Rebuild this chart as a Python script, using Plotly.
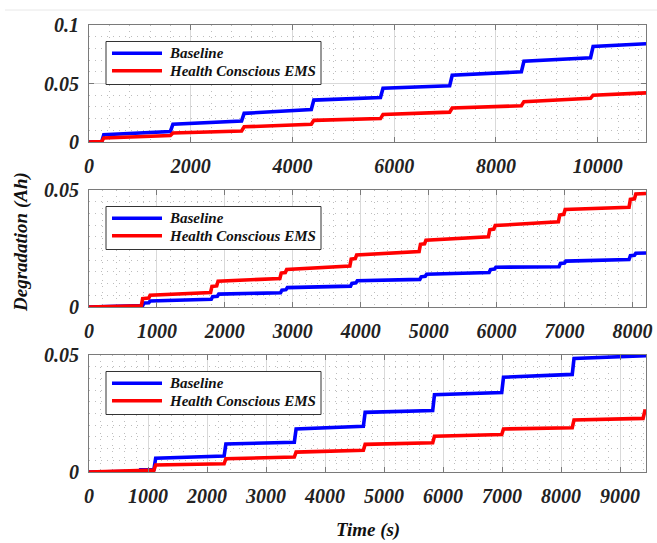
import plotly.graph_objects as go
from plotly.subplots import make_subplots

# ---------------- data ----------------
series_names = ["Baseline", "Health Conscious EMS"]
tick_x1 = [0, 2000, 4000, 6000, 8000, 10000]
tick_x2 = [0, 1000, 2000, 3000, 4000, 5000, 6000, 7000, 8000]
tick_x3 = [0, 1000, 2000, 3000, 4000, 5000, 6000, 7000, 8000, 9000]
tick_y1 = [0, 0.05, 0.1]
tick_y1_labels = ["0", "0.05", "0.1"]
tick_y23 = [0, 0.05]
tick_y23_labels = ["0", "0.05"]

# panel 1
t1_base = [0, 250, 290, 1600, 1650, 3000, 3050, 4370, 4420, 5730, 5780, 7090, 7140,
           8500, 8550, 9860, 9910, 10950]
base1 = [0, 0.0003, 0.0062, 0.0090, 0.0152, 0.0180, 0.0245, 0.0277, 0.0358, 0.0380,
         0.0460, 0.0480, 0.0570, 0.0600, 0.0690, 0.0720, 0.0816, 0.0840]
t1_hems = [0, 250, 290, 1600, 1650, 3000, 3050, 4370, 4420, 5730, 5780, 7090, 7140,
           8500, 8550, 9860, 9910, 10950]
hems1 = [0, 0.0003, 0.0035, 0.0055, 0.0077, 0.0094, 0.0130, 0.0151, 0.0185, 0.0200,
         0.0235, 0.0255, 0.0290, 0.0310, 0.0345, 0.0373, 0.0400, 0.0420]

# panel 2
t2_base = [0, 790, 810, 880, 900, 1800, 1820, 1890, 1910, 2820, 2840, 2900, 2920,
           3850, 3870, 3930, 3950, 4870, 4890, 4950, 4970, 5890, 5910, 5970, 5990,
           6920, 6940, 7000, 7020, 7950, 7970, 8030, 8050, 8200]
base2 = [0, 0.0006, 0.0017, 0.0018, 0.0026, 0.0033, 0.0044, 0.0046, 0.0055, 0.0061,
         0.0072, 0.0074, 0.0083, 0.0089, 0.0101, 0.0103, 0.0112, 0.0118, 0.0129,
         0.0131, 0.0140, 0.0147, 0.0160, 0.0162, 0.0170, 0.0172, 0.0186, 0.0188,
         0.0196, 0.0203, 0.0219, 0.0221, 0.0230, 0.0231]
t2_hems = [0, 770, 790, 880, 900, 1790, 1810, 1880, 1900, 2810, 2830, 2890, 2910,
           3840, 3860, 3920, 3940, 4860, 4880, 4940, 4960, 5880, 5900, 5960, 5980,
           6910, 6930, 6990, 7010, 7950, 7970, 8030, 8050, 8200]
hems2 = [0, 0.0005, 0.0036, 0.0038, 0.0050, 0.0062, 0.0088, 0.0090, 0.0110, 0.0122,
         0.0145, 0.0147, 0.0160, 0.0175, 0.0205, 0.0207, 0.0222, 0.0237, 0.0268,
         0.0270, 0.0285, 0.0300, 0.0330, 0.0333, 0.0348, 0.0364, 0.0393, 0.0396,
         0.0417, 0.0426, 0.0460, 0.0462, 0.0483, 0.0485]

# panel 3
t3_base = [0, 850, 870, 1100, 1130, 2290, 2320, 3480, 3510, 4650, 4680, 5825, 5855,
           6995, 7025, 8190, 8220, 9440]
base3 = [0, 0.0003, 0.0010, 0.0011, 0.0059, 0.0068, 0.0120, 0.0127, 0.0184, 0.0195,
         0.0255, 0.0263, 0.0330, 0.0340, 0.0405, 0.0417, 0.0485, 0.0497]
t3_hems = [0, 1100, 1130, 2290, 2320, 3480, 3510, 4650, 4680, 5825, 5855, 6995, 7025,
           8190, 8220, 9390, 9420, 9440]
hems3 = [0, 0.0008, 0.0030, 0.0035, 0.0057, 0.0064, 0.0085, 0.0093, 0.0118, 0.0125,
         0.0153, 0.0160, 0.0184, 0.0189, 0.0222, 0.0229, 0.0260, 0.0260]

x_ranges = [10950, 8200, 9440]
y_ranges = [0.1, 0.05, 0.05]

# ---------------- figure ----------------
W, H = 657, 543
ML, MR, MT, MB = 89, 11, 25, 71
PW, PH = W - ML - MR, H - MT - MB
panel_px = [(25, 142), (190, 307), (355, 472)]  # top, bottom in pixels


def px_x(px):
    return (px - ML) / PW


def px_y(py):
    return (H - MB - py) / PH


colors = ["#0000FF", "#FF0000"]
FONT = "Liberation Serif, Times New Roman, serif"
AXCOL = "#7a7a7a"

fig = make_subplots(rows=3, cols=1)

data = [
    [(t1_base, base1), (t1_hems, hems1)],
    [(t2_base, base2), (t2_hems, hems2)],
    [(t3_base, base3), (t3_hems, hems3)],
]
for r, pair in enumerate(data, start=1):
    for k, (tt, vv) in enumerate(pair):
        fig.add_trace(go.Scatter(x=tt, y=vv, mode="lines", name=series_names[k],
                                 line=dict(color=colors[k], width=3.6),
                                 showlegend=False, hoverinfo="skip"),
                      row=r, col=1)

tickfont = dict(family=FONT, size=20, weight="bold", style="italic", color="#222222")
xticks = [tick_x1, tick_x2, tick_x3]
yticks = [(tick_y1, tick_y1_labels), (tick_y23, tick_y23_labels), (tick_y23, tick_y23_labels)]
xminor = [400, 200, 200]
yminor = [0.01, 0.005, 0.005]
MINOR = dict(showgrid=True, griddash="1px,5px", gridcolor="#bdbdbd", gridwidth=1, ticks="")

for i in range(3):
    top, bot = panel_px[i]
    xa = "xaxis" if i == 0 else f"xaxis{i+1}"
    ya = "yaxis" if i == 0 else f"yaxis{i+1}"
    fig.layout[xa].update(
        domain=[0, 1], range=[0, x_ranges[i]], automargin=False,
        tickmode="array", tickvals=xticks[i], ticktext=[str(v) for v in xticks[i]],
        showline=True, linecolor=AXCOL, linewidth=1, mirror="all",
        ticks="inside", ticklen=5, tickcolor=AXCOL,
        showgrid=True, gridcolor="#d9d9d9", gridwidth=1,
        minor=dict(dtick=xminor[i], **MINOR),
        zeroline=False, tickfont=tickfont, ticklabelstandoff=6,
    )
    fig.layout[ya].update(
        domain=[px_y(bot), px_y(top)], range=[0, y_ranges[i]], automargin=False,
        tickmode="array", tickvals=yticks[i][0], ticktext=yticks[i][1],
        showline=True, linecolor=AXCOL, linewidth=1, mirror="all",
        ticks="inside", ticklen=5, tickcolor=AXCOL,
        showgrid=True, gridcolor="#d9d9d9", gridwidth=1,
        minor=dict(tick0=0, dtick=yminor[i], **MINOR),
        zeroline=False, tickfont=tickfont, ticklabelstandoff=5,
    )

shapes = []
annotations = []
legfont = dict(family=FONT, size=15, weight="bold", style="italic", color="#111111")
for i in range(3):
    top, bot = panel_px[i]
    # legend box
    shapes.append(dict(type="rect", xref="paper", yref="paper",
                       x0=px_x(106), x1=px_x(321), y0=px_y(top + 59.5), y1=px_y(top + 16.5),
                       line=dict(color="#333333", width=1), fillcolor="white", layer="above"))
    for k, dy in enumerate([28.3, 45.7]):
        shapes.append(dict(type="line", xref="paper", yref="paper",
                           x0=px_x(112), x1=px_x(162), y0=px_y(top + dy), y1=px_y(top + dy),
                           line=dict(color=colors[k], width=3.6), layer="above"))
        annotations.append(dict(xref="paper", yref="paper", x=px_x(167), y=px_y(top + dy),
                                xanchor="left", yanchor="middle", text=series_names[k],
                                showarrow=False, font=legfont))

# faint page line at top
shapes.append(dict(type="line", xref="paper", yref="paper",
                   x0=px_x(5), x1=px_x(657), y0=px_y(10), y1=px_y(10),
                   line=dict(color="#e8e8e8", width=1)))

titlefont = dict(family=FONT, size=19, weight="bold", style="italic", color="#111111")
annotations.append(dict(xref="paper", yref="paper", x=px_x(21), y=px_y(242),
                        xanchor="center", yanchor="middle", text="Degradation (Ah)",
                        textangle=-90, showarrow=False, font=titlefont))
annotations.append(dict(xref="paper", yref="paper", x=0.5, y=px_y(530),
                        xanchor="center", yanchor="middle", text="Time (s)",
                        showarrow=False, font=titlefont))

fig.update_layout(
    width=W, height=H, autosize=False,
    margin=dict(l=ML, r=MR, t=MT, b=MB, autoexpand=False),
    paper_bgcolor="white", plot_bgcolor="white",
    shapes=shapes, annotations=annotations, showlegend=False,
)

fig.write_html("out.html", config={"displayModeBar": False},
               post_script="document.body.style.margin='0px';document.body.style.padding='0px';")
